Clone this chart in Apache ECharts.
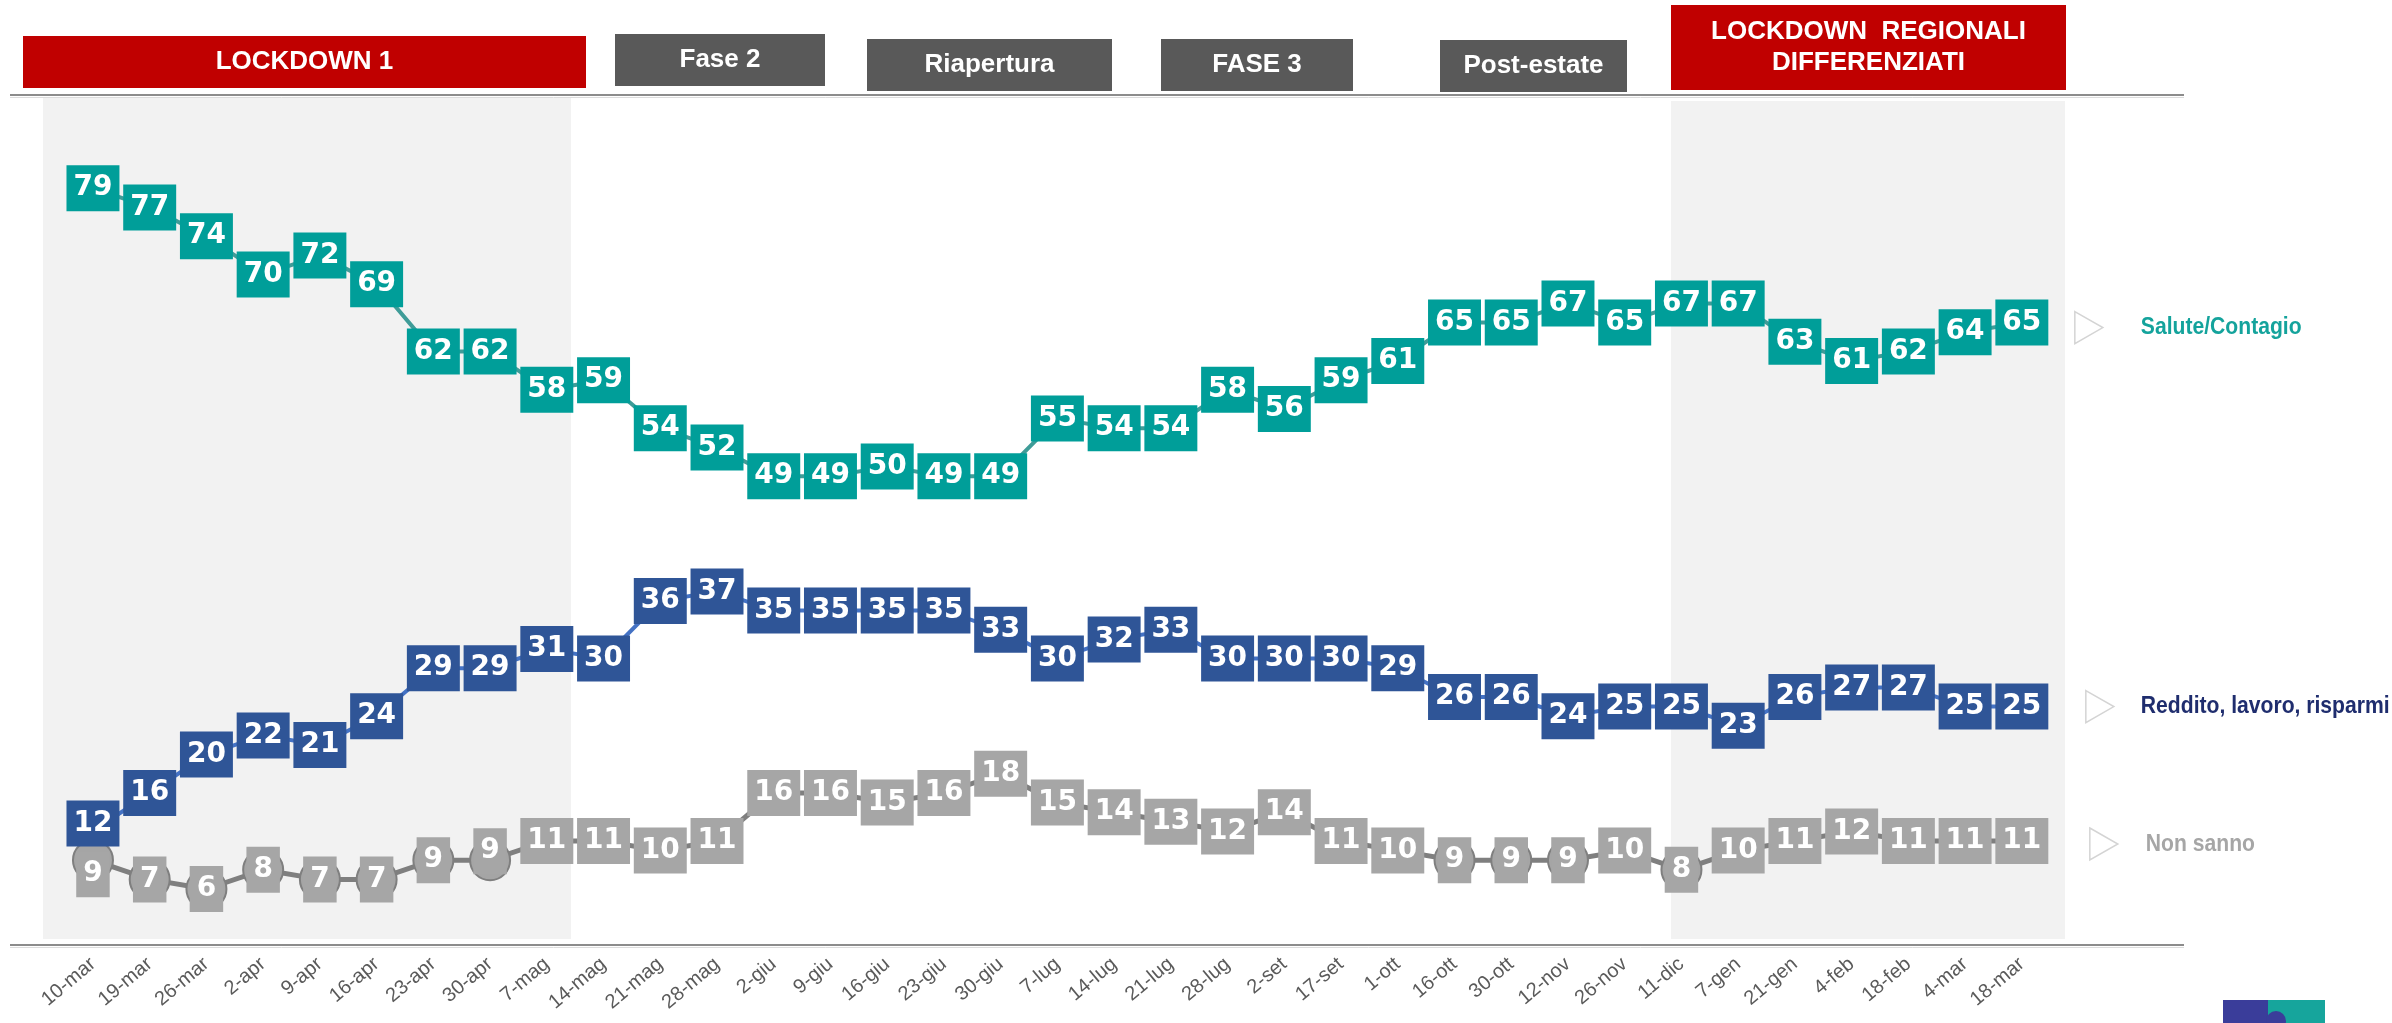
<!DOCTYPE html>
<html>
<head>
<meta charset="utf-8">
<script src="https://cdn.jsdelivr.net/npm/echarts@6/dist/echarts.min.js"></script>
<style>
html, body { margin: 0; padding: 0; background: #fff; }
#chart { width: 2392px; height: 1023px; }
</style>
</head>
<body>
<div id="chart"></div>
<script>
// date delle rilevazioni
var categories = ['10-mar','19-mar','26-mar','2-apr','9-apr','16-apr','23-apr','30-apr','7-mag','14-mag',
    '21-mag','28-mag','2-giu','9-giu','16-giu','23-giu','30-giu','7-lug','14-lug','21-lug',
    '28-lug','2-set','17-set','1-ott','16-ott','30-ott','12-nov','26-nov','11-dic','7-gen',
    '21-gen','4-feb','18-feb','4-mar','18-mar'];

var salute = [79,77,74,70,72,69,62,62,58,59,54,52,49,49,50,49,49,55,54,54,58,56,59,61,65,65,67,65,67,67,63,61,62,64,65];
var reddito = [12,16,20,22,21,24,29,29,31,30,36,37,35,35,35,35,33,30,32,33,30,30,30,29,26,26,24,25,25,23,26,27,27,25,25];
var nonSanno = [9,7,6,8,7,7,9,9,11,11,10,11,16,16,15,16,18,15,14,13,12,14,11,10,9,9,9,10,8,10,11,12,11,11,11];

var seriesNames = ['Salute/Contagio', 'Reddito, lavoro, risparmi', 'Non sanno'];

var chart = echarts.init(document.getElementById('chart'));

// etichetta a riquadro sopra ogni punto
function boxLabel(bg) {
    return {
        show: true,
        position: 'inside',
        backgroundColor: bg,
        color: '#fff',
        fontFamily: 'DejaVu Sans',
        fontWeight: 'bold',
        fontSize: 28,
        lineHeight: 46,
        padding: [0, 7]
    };
}

// alcune etichette spostate a mano come nell'originale
function shiftLayout(shifts) {
    return function (params) {
        return { hideOverlap: false, dy: shifts[params.dataIndex] || 0 };
    };
}

// riquadri delle fasi in alto
function header(x, y, w, h, color, text) {
    return [
        { type: 'rect', z: 1, shape: { x: x, y: y, width: w, height: h }, style: { fill: color } },
        { type: 'text', z: 2, style: {
            text: text, x: x + w / 2, y: y + h / 2, align: 'center', verticalAlign: 'middle',
            fill: '#fff', font: 'bold 26px "Liberation Sans", Arial', lineHeight: 31
        } }
    ];
}

var graphics = [].concat(
    // aree grigie dei lockdown
    [{ type: 'rect', z: 0, shape: { x: 43, y: 98, width: 528, height: 841 }, style: { fill: '#f2f2f2' } },
     { type: 'rect', z: 0, shape: { x: 1671, y: 101, width: 394, height: 838 }, style: { fill: '#f2f2f2' } },
     // linee orizzontali
     { type: 'line', z: 1, shape: { x1: 10, y1: 95, x2: 2184, y2: 95 }, style: { stroke: '#8c8c8c', lineWidth: 2 } },
     { type: 'line', z: 1, shape: { x1: 10, y1: 97.5, x2: 2184, y2: 97.5 }, style: { stroke: '#dcdcdc', lineWidth: 1 } },
     { type: 'line', z: 1, shape: { x1: 10, y1: 945, x2: 2184, y2: 945 }, style: { stroke: '#8c8c8c', lineWidth: 2 } },
     { type: 'line', z: 1, shape: { x1: 10, y1: 947.5, x2: 2184, y2: 947.5 }, style: { stroke: '#dcdcdc', lineWidth: 1 } },
     // logo
     { type: 'rect', z: 1, shape: { x: 2223, y: 1000, width: 102, height: 23 }, style: { fill: '#3a3d9a' } },
     { type: 'rect', z: 1, shape: { x: 2268, y: 1000, width: 57, height: 23 }, style: { fill: '#16a59c' } },
     { type: 'circle', z: 2, shape: { cx: 2276, cy: 1021, r: 10 }, style: { fill: '#3a3d9a' } }],
    header(23, 36, 563, 52, '#c00000', 'LOCKDOWN 1'),
    header(615, 34, 210, 52, '#595959', 'Fase 2'),
    header(867, 39, 245, 52, '#595959', 'Riapertura'),
    header(1161, 39, 192, 52, '#595959', 'FASE 3'),
    header(1440, 40, 187, 52, '#595959', 'Post-estate'),
    header(1671, 5, 395, 85, '#c00000', 'LOCKDOWN  REGIONALI\nDIFFERENZIATI')
);

var option = {
    animation: false,
    grid: { left: 64.6, right: 341.8, top: 82.6, bottom: 76.4 },
    xAxis: {
        type: 'category',
        data: categories,
        boundaryGap: true,
        axisLine: { show: false },
        axisTick: { show: false },
        axisLabel: {
            interval: 0,
            rotate: 40,
            margin: 15,
            fontSize: 20,
            fontFamily: 'Liberation Sans',
            color: '#5a5a5a'
        }
    },
    yAxis: {
        type: 'value',
        min: 0,
        max: 90,
        show: false,
        splitLine: { show: false }
    },
    graphic: graphics,
    series: [
        {
            name: seriesNames[0],
            type: 'line',
            data: salute,
            symbol: 'circle',
            symbolSize: 4,
            itemStyle: { color: '#3f9c98' },
            lineStyle: { color: '#3f9c98', width: 4 },
            label: boxLabel('#009e99'),
            labelLayout: { hideOverlap: false },
            z: 3
        },
        {
            name: seriesNames[1],
            type: 'line',
            data: reddito,
            symbol: 'circle',
            symbolSize: 4,
            itemStyle: { color: '#4472c4' },
            lineStyle: { color: '#4472c4', width: 4 },
            label: boxLabel('#2f5597'),
            labelLayout: shiftLayout({ 0: -8 }),
            z: 3
        },
        {
            name: seriesNames[2],
            type: 'line',
            data: nonSanno,
            symbol: 'circle',
            symbolSize: 40,
            itemStyle: { color: '#a5a5a5', borderColor: '#7f7f7f', borderWidth: 2 },
            lineStyle: { color: '#7f7f7f', width: 5 },
            label: boxLabel('#a6a6a6'),
            labelLayout: shiftLayout({ 0: 14, 7: -9 }),
            z: 3
        }
    ]
};

chart.setOption(option);

// etichette a destra, agganciate all'ultimo punto di ogni serie
var endStyles = [
    { data: salute, color: '#14a39c', tri: 53, txt: 119, dy: 5 },
    { data: reddito, color: '#1f2d6e', tri: 64, txt: 119, dy: 0 },
    { data: nonSanno, color: '#a6a6a6', tri: 68, txt: 124, dy: 3 }
];
var extra = [];
endStyles.forEach(function (s, i) {
    var last = s.data.length - 1;
    var p = chart.convertToPixel({ seriesIndex: i }, [last, s.data[last]]);
    var x = p[0], y = p[1] + s.dy;
    extra.push({
        type: 'polygon', z: 1,
        shape: { points: [[x + s.tri, y - 16], [x + s.tri + 28, y], [x + s.tri, y + 16]] },
        style: { fill: 'none', stroke: '#d4d4d4', lineWidth: 1.5 }
    });
    extra.push({
        type: 'text', z: 1,
        x: x + s.txt, y: y, scaleX: 0.88,
        style: {
            text: seriesNames[i], x: 0, y: 0, align: 'left', verticalAlign: 'middle',
            fill: s.color, font: 'bold 24px "Liberation Sans", Arial'
        }
    });
});
chart.setOption({ graphic: graphics.concat(extra) });
</script>
</body>
</html>
